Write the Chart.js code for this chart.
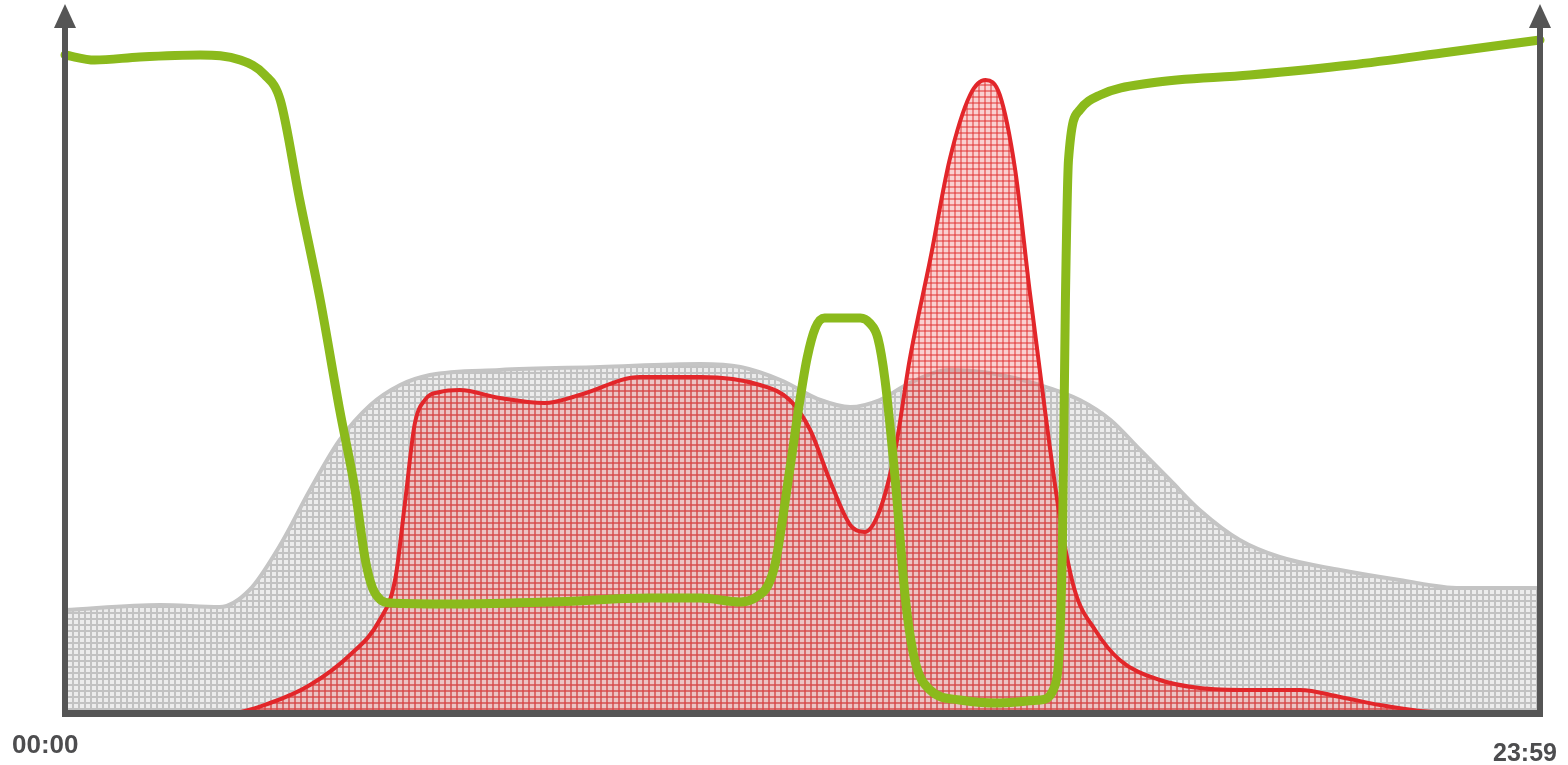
<!DOCTYPE html>
<html>
<head>
<meta charset="utf-8">
<script src="https://cdn.jsdelivr.net/npm/chart.js@4/dist/chart.umd.min.js"></script>
<style>
  html, body { margin: 0; padding: 0; background: #fff; }
  #wrap { width: 1568px; height: 765px; }
</style>
</head>
<body>
<div id="wrap"><canvas id="dayChart"></canvas></div>
<script>
// minutes since 00:00, values on a 0..700 scale
const grayTimes = [0, 93, 151, 180, 210, 239, 268, 298, 327, 356, 424, 522, 620, 659, 698, 737, 766, 795, 824, 863, 902, 951, 990, 1020, 1049, 1078, 1107, 1146, 1185, 1244, 1302, 1361, 1439];
const grayValues = [103, 108, 106, 123, 168, 223, 273, 308, 328, 338, 343, 346, 349, 346, 333, 313, 306, 313, 330, 343, 340, 328, 313, 293, 263, 233, 203, 173, 156, 143, 133, 125, 125];

const redTimes = [0, 161, 200, 239, 278, 307, 322, 332, 341, 351, 366, 385, 424, 468, 502, 561, 620, 678, 707, 727, 746, 766, 780, 795, 810, 824, 844, 863, 883, 898, 912, 927, 941, 956, 971, 985, 1005, 1029, 1068, 1107, 1156, 1205, 1244, 1283, 1322, 1361, 1439];
const redValues = [0, 0, 10, 28, 58, 93, 133, 213, 288, 313, 321, 323, 315, 310, 318, 336, 336, 328, 313, 283, 233, 188, 181, 203, 263, 353, 453, 553, 618, 633, 618, 543, 423, 303, 193, 123, 83, 53, 33, 25, 23, 23, 16, 8, 2, 0, 0];

const greenTimes = [0, 29, 73, 132, 171, 195, 210, 229, 249, 268, 283, 293, 300, 308, 317, 376, 473, 571, 620, 659, 676, 686, 693, 707, 717, 724, 732, 741, 776, 785, 793, 800, 810, 820, 829, 844, 873, 912, 951, 966, 973, 976, 979, 990, 1010, 1059, 1156, 1254, 1351, 1439];
const greenValues = [658, 653, 656, 658, 653, 638, 613, 513, 413, 303, 223, 153, 125, 113, 110, 109, 111, 115, 115, 111, 117, 128, 150, 243, 313, 355, 385, 395, 395, 390, 375, 333, 233, 113, 53, 23, 13, 10, 13, 28, 163, 413, 553, 603, 618, 630, 638, 648, 661, 673];

const tickLabels = ['00:00', '23:59'];

function pts(xs, ys) {
  return xs.map((x, i) => ({ x: x, y: ys[i] }));
}

function gridPattern(bg, line) {
  const c = document.createElement('canvas');
  c.width = 6; c.height = 6;
  const g = c.getContext('2d');
  g.fillStyle = bg;
  g.fillRect(0, 0, 6, 6);
  g.fillStyle = line;
  g.fillRect(0, 0, 6, 2);
  g.fillRect(0, 0, 2, 6);
  return g.createPattern(c, 'repeat');
}

const axisPlugin = {
  id: 'arrowAxes',
  afterDraw(chart) {
    const ctx = chart.ctx;
    const a = chart.chartArea;
    const xs = chart.scales.x;
    ctx.save();
    ctx.fillStyle = '#555555';
    // left and right vertical axes, bottom axis
    ctx.fillRect(a.left - 3, 26, 6, a.bottom - 26 + 3);
    ctx.fillRect(a.right - 3, 26, 6, a.bottom - 26 + 3);
    ctx.fillRect(a.left - 3, a.bottom - 3, a.right - a.left + 6, 7);
    [a.left, a.right].forEach(x => {
      ctx.beginPath();
      ctx.moveTo(x, 4);
      ctx.lineTo(x + 11, 28);
      ctx.lineTo(x - 11, 28);
      ctx.closePath();
      ctx.fill();
    });
    ctx.fillStyle = '#4d4d4f';
    ctx.font = 'bold 26px "Liberation Sans", Arial, sans-serif';
    ctx.textAlign = 'left';
    ctx.fillText(tickLabels[0], xs.getPixelForValue(0) - 53, 753);
    ctx.textAlign = 'right';
    ctx.font = 'bold 25px "Liberation Sans", Arial, sans-serif';
    ctx.fillText(tickLabels[1], xs.getPixelForValue(1439) + 17, 761);
    ctx.restore();
  }
};

new Chart(document.getElementById('dayChart'), {
  type: 'line',
  data: {
    datasets: [
      {
        label: 'green',
        data: pts(greenTimes, greenValues),
        borderColor: '#8bba1c',
        borderWidth: 9,
        fill: false,
        cubicInterpolationMode: 'monotone',
        borderCapStyle: 'round',
        borderJoinStyle: 'round',
        pointRadius: 0,
        clip: false,
        order: 0
      },
      {
        label: 'red',
        data: pts(redTimes, redValues),
        borderColor: '#e2262a',
        borderWidth: 4,
        backgroundColor: gridPattern('rgba(238,120,120,0.34)', 'rgba(226,50,50,0.5)'),
        fill: 'origin',
        cubicInterpolationMode: 'monotone',
        pointRadius: 0,
        order: 1
      },
      {
        label: 'gray',
        data: pts(grayTimes, grayValues),
        borderColor: '#c4c4c4',
        borderWidth: 4,
        backgroundColor: gridPattern('#ececec', '#c2c2c2'),
        fill: 'origin',
        cubicInterpolationMode: 'monotone',
        pointRadius: 0,
        order: 2
      }
    ]
  },
  options: {
    responsive: true,
    maintainAspectRatio: false,
    animation: false,
    layout: { padding: { left: 65, right: 28, top: 13, bottom: 52 } },
    plugins: { legend: { display: false }, tooltip: { enabled: false } },
    scales: {
      x: { type: 'linear', min: 0, max: 1439, display: false },
      y: { min: 0, max: 700, display: false }
    }
  },
  plugins: [axisPlugin]
});
</script>
</body>
</html>
